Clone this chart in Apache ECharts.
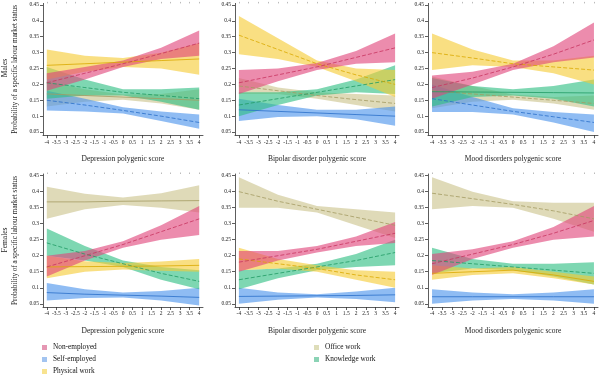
<!DOCTYPE html>
<html style="height: 100%">

<head>
  <meta charset="UTF-8" />
  <title>Labour market status by polygenic score</title>
  <script src="https://cdn.jsdelivr.net/npm/echarts@6/dist/echarts.min.js"></script>
</head>

<body style="height: 100%; margin: 0">
  <div id="main" style="width: 600px; height: 375px"></div>
  <script>
    const scorePoints = [-4, -2, 0, 2, 4];
    const xTicks = [-4, -3.5, -3, -2.5, -2, -1.5, -1, -0.5, 0, 0.5, 1, 1.5, 2, 2.5, 3, 3.5, 4];
    const yTicks = [0.05, 0.1, 0.15, 0.2, 0.25, 0.3, 0.35, 0.4, 0.45];
    const scoreNames = ['Depression polygenic score', 'Bipolar disorder polygenic score', 'Mood disorders polygenic score'];
    const rowLabels = ['Males', 'Females'];
    const categories = ['Non-employed', 'Self-employed', 'Physical work', 'Office work', 'Knowledge work'];

    // panels: males dep, males bip, males mood, females dep, females bip, females mood
    const nonEmployedMean = [
      [0.205, 0.235, 0.265, 0.297, 0.33], [0.205, 0.23, 0.255, 0.285, 0.315], [0.19, 0.22, 0.255, 0.295, 0.34],
      [0.165, 0.2, 0.235, 0.275, 0.315], [0.18, 0.2, 0.22, 0.245, 0.27], [0.175, 0.205, 0.235, 0.27, 0.31]
    ];
    const nonEmployedLow = [
      [0.18, 0.215, 0.255, 0.28, 0.29], [0.17, 0.21, 0.245, 0.265, 0.27], [0.155, 0.2, 0.245, 0.27, 0.285],
      [0.135, 0.185, 0.225, 0.25, 0.265], [0.15, 0.185, 0.21, 0.23, 0.24], [0.14, 0.19, 0.225, 0.25, 0.26]
    ];
    const nonEmployedHigh = [
      [0.235, 0.255, 0.275, 0.315, 0.37], [0.245, 0.25, 0.267, 0.305, 0.36], [0.228, 0.24, 0.265, 0.32, 0.395],
      [0.2, 0.215, 0.245, 0.295, 0.355], [0.215, 0.215, 0.23, 0.26, 0.305], [0.205, 0.22, 0.245, 0.29, 0.355]
    ];

    const selfEmployedMean = [
      [0.15, 0.135, 0.118, 0.1, 0.08], [0.12, 0.115, 0.11, 0.105, 0.1], [0.155, 0.135, 0.115, 0.098, 0.08],
      [0.085, 0.08, 0.077, 0.074, 0.07], [0.073, 0.074, 0.075, 0.076, 0.078], [0.072, 0.072, 0.072, 0.072, 0.072]
    ];
    const selfEmployedLow = [
      [0.118, 0.115, 0.108, 0.085, 0.06], [0.085, 0.097, 0.1, 0.09, 0.07], [0.113, 0.113, 0.105, 0.08, 0.05],
      [0.06, 0.068, 0.07, 0.06, 0.045], [0.05, 0.063, 0.07, 0.065, 0.055], [0.05, 0.06, 0.065, 0.06, 0.05]
    ];
    const selfEmployedHigh = [
      [0.18, 0.155, 0.128, 0.115, 0.105], [0.155, 0.135, 0.12, 0.12, 0.13], [0.2, 0.16, 0.125, 0.113, 0.105],
      [0.115, 0.095, 0.085, 0.09, 0.1], [0.1, 0.085, 0.08, 0.088, 0.1], [0.095, 0.085, 0.08, 0.085, 0.095]
    ];

    const physicalMean = [
      [0.26, 0.265, 0.27, 0.275, 0.28], [0.355, 0.31, 0.265, 0.23, 0.2], [0.3, 0.283, 0.265, 0.255, 0.245],
      [0.165, 0.166, 0.167, 0.168, 0.17], [0.19, 0.175, 0.16, 0.14, 0.125], [0.145, 0.15, 0.155, 0.14, 0.12]
    ];
    const physicalLow = [
      [0.215, 0.24, 0.255, 0.25, 0.23], [0.295, 0.28, 0.255, 0.21, 0.16], [0.245, 0.26, 0.255, 0.235, 0.2],
      [0.13, 0.15, 0.157, 0.153, 0.15], [0.155, 0.16, 0.15, 0.125, 0.1], [0.125, 0.14, 0.145, 0.13, 0.11]
    ];
    const physicalHigh = [
      [0.31, 0.29, 0.283, 0.3, 0.33], [0.415, 0.345, 0.275, 0.25, 0.245], [0.36, 0.31, 0.275, 0.275, 0.29],
      [0.2, 0.183, 0.177, 0.182, 0.19], [0.225, 0.19, 0.17, 0.155, 0.15], [0.17, 0.16, 0.165, 0.15, 0.135]
    ];

    const officeMean = [
      [0.17, 0.165, 0.16, 0.155, 0.15], [0.195, 0.18, 0.165, 0.152, 0.14], [0.18, 0.17, 0.16, 0.15, 0.14],
      [0.368, 0.368, 0.37, 0.371, 0.372], [0.4, 0.37, 0.345, 0.32, 0.295], [0.395, 0.378, 0.36, 0.34, 0.315]
    ];
    const officeLow = [
      [0.13, 0.145, 0.152, 0.14, 0.12], [0.17, 0.17, 0.155, 0.135, 0.115], [0.125, 0.145, 0.152, 0.14, 0.12],
      [0.315, 0.345, 0.358, 0.35, 0.335], [0.35, 0.35, 0.335, 0.295, 0.255], [0.345, 0.355, 0.35, 0.315, 0.275]
    ];
    const officeHigh = [
      [0.21, 0.185, 0.168, 0.17, 0.185], [0.22, 0.19, 0.175, 0.17, 0.165], [0.225, 0.195, 0.168, 0.16, 0.165],
      [0.415, 0.393, 0.382, 0.395, 0.42], [0.445, 0.39, 0.355, 0.345, 0.335], [0.445, 0.4, 0.37, 0.365, 0.365]
    ];

    const knowledgeMean = [
      [0.205, 0.19, 0.175, 0.165, 0.155], [0.135, 0.155, 0.175, 0.195, 0.215], [0.177, 0.176, 0.175, 0.174, 0.173],
      [0.24, 0.205, 0.175, 0.145, 0.12], [0.125, 0.145, 0.165, 0.185, 0.21], [0.185, 0.175, 0.165, 0.155, 0.145]
    ];
    const knowledgeLow = [
      [0.155, 0.165, 0.165, 0.145, 0.12], [0.1, 0.135, 0.165, 0.175, 0.17], [0.13, 0.16, 0.165, 0.155, 0.13],
      [0.2, 0.185, 0.165, 0.125, 0.095], [0.095, 0.13, 0.155, 0.165, 0.17], [0.145, 0.16, 0.155, 0.135, 0.11]
    ];
    const knowledgeHigh = [
      [0.255, 0.215, 0.185, 0.185, 0.19], [0.175, 0.175, 0.185, 0.215, 0.26], [0.22, 0.195, 0.185, 0.195, 0.215],
      [0.285, 0.23, 0.185, 0.165, 0.155], [0.155, 0.16, 0.175, 0.205, 0.25], [0.225, 0.19, 0.175, 0.175, 0.18]
    ];

    const FONT = 'Liberation Serif';
    const chart = echarts.init(document.getElementById('main'));

    // name -> [band colour, line colour, legend swatch, mean, low, high]
    const styles = {
      'Non-employed': ['#e0457b', '#c8335f', '#e597b3', nonEmployedMean, nonEmployedLow, nonEmployedHigh],
      'Self-employed': ['#4b93ec', '#2a6fc9', '#a3c4f0', selfEmployedMean, selfEmployedLow, selfEmployedHigh],
      'Physical work': ['#f6cb35', '#d9a800', '#f8e38f', physicalMean, physicalLow, physicalHigh],
      'Office work': ['#cbc38c', '#a39a62', '#deddb9', officeMean, officeLow, officeHigh],
      'Knowledge work': ['#2fbf82', '#1f9a63', '#8bd3b5', knowledgeMean, knowledgeLow, knowledgeHigh]
    };
    const drawOrder = ['Office work', 'Self-employed', 'Knowledge work', 'Physical work', 'Non-employed'];

    const lefts = [43, 235, 428];
    const widths = [160, 164, 170];
    const tops = [3.4, 174];
    const heights = [131.8, 133];

    const grids = [], xAxes = [], yAxes = [], series = [];
    for (let p = 0; p < 6; p++) {
      const row = Math.floor(p / 3), col = p % 3;
      grids.push({ left: lefts[col], top: tops[row], width: widths[col], height: heights[row] });
      xAxes.push({
        type: 'value', gridIndex: p, min: -4.2, max: 4.2,
        name: scoreNames[col], nameLocation: 'middle', nameGap: 20,
        nameTextStyle: { fontFamily: FONT, fontSize: 7.5, color: '#222' },
        axisLine: { onZero: false, lineStyle: { color: '#333', width: 0.8 } },
        axisTick: { customValues: xTicks, length: 3, lineStyle: { color: '#333', width: 0.8 } },
        axisLabel: { customValues: xTicks, fontFamily: FONT, fontSize: 5.5, color: '#222', margin: 4 },
        splitLine: { show: false }
      });
      xAxes.push({
        type: 'value', gridIndex: p, min: -4.2, max: 4.2, position: 'top',
        axisLine: { show: false, onZero: false },
        axisTick: { customValues: xTicks, length: 1.5, lineStyle: { color: '#aaa', width: 0.8 } },
        axisLabel: { show: false }, splitLine: { show: false }
      });
      yAxes.push({
        type: 'value', gridIndex: p, min: 0.04, max: 0.455,
        name: col === 0 ? 'Probability of a specific labour market status' : '',
        nameLocation: 'middle', nameGap: 24,
        nameTextStyle: { fontFamily: FONT, fontSize: 7.2, color: '#222' },
        axisLine: { show: true, onZero: false, lineStyle: { color: '#333', width: 0.8 } },
        axisTick: { show: true, customValues: yTicks, length: 3, lineStyle: { color: '#333', width: 0.8 } },
        axisLabel: { customValues: yTicks, fontFamily: FONT, fontSize: 5.5, color: '#222', margin: 4 },
        splitLine: { show: false }
      });

      drawOrder.forEach(function (name) {
        const s = styles[name];
        const mean = s[3][p], low = s[4][p], high = s[5][p];
        // confidence band: one polygon along the upper values and back along the lower ones
        series.push({
          name: name, type: 'custom', xAxisIndex: p * 2, yAxisIndex: p, silent: true,
          color: s[0],
          data: scorePoints.map((x, i) => [x, low[i], high[i]]),
          encode: { x: 0, y: [1, 2] },
          renderItem: function (params, api) {
            if (params.dataIndex !== 0) return;
            const upper = [], lower = [];
            for (let i = 0; i < scorePoints.length; i++) {
              upper.push(api.coord([scorePoints[i], high[i]]));
              lower.unshift(api.coord([scorePoints[i], low[i]]));
            }
            return {
              type: 'polygon',
              shape: { points: upper.concat(lower) },
              style: { fill: s[0], opacity: 0.62 }
            };
          }
        });
        const slope = Math.abs(mean[4] - mean[0]);
        series.push({
          name: name + ' mean', type: 'line', xAxisIndex: p * 2, yAxisIndex: p,
          symbol: 'none', silent: true, z: 4,
          lineStyle: { color: s[1], width: 0.8, type: slope > 0.03 ? [4, 2] : 'solid' },
          data: scorePoints.map((x, i) => [x, mean[i]])
        });
      });
    }

    const legendItem = name => ({ name: name, itemStyle: { color: styles[name][2] } });
    const legendBase = {
      orient: 'vertical', top: 343.5, height: 40, padding: 0, itemWidth: 5, itemHeight: 5, itemGap: 4, icon: 'rect',
      selectedMode: false,
      textStyle: { fontFamily: FONT, fontSize: 7.3, lineHeight: 8, color: '#111', padding: [0, 0, 0, 1] }
    };

    const option = {
      backgroundColor: '#fff',
      animation: false,
      grid: grids,
      xAxis: xAxes,
      yAxis: yAxes,
      legend: [
        Object.assign({ left: 42, data: categories.slice(0, 3).map(legendItem) }, legendBase),
        Object.assign({ left: 314, data: categories.slice(3).map(legendItem) }, legendBase)
      ],
      graphic: rowLabels.map((label, r) => ({
        type: 'text', x: 1.5, y: r === 0 ? 68 : 240, rotation: Math.PI / 2,
        style: { text: label, fontFamily: FONT, fontSize: 7.5, fill: '#222', align: 'center', verticalAlign: 'top' }
      })),
      series: series
    };

    chart.setOption(option);
  </script>
</body>

</html>
